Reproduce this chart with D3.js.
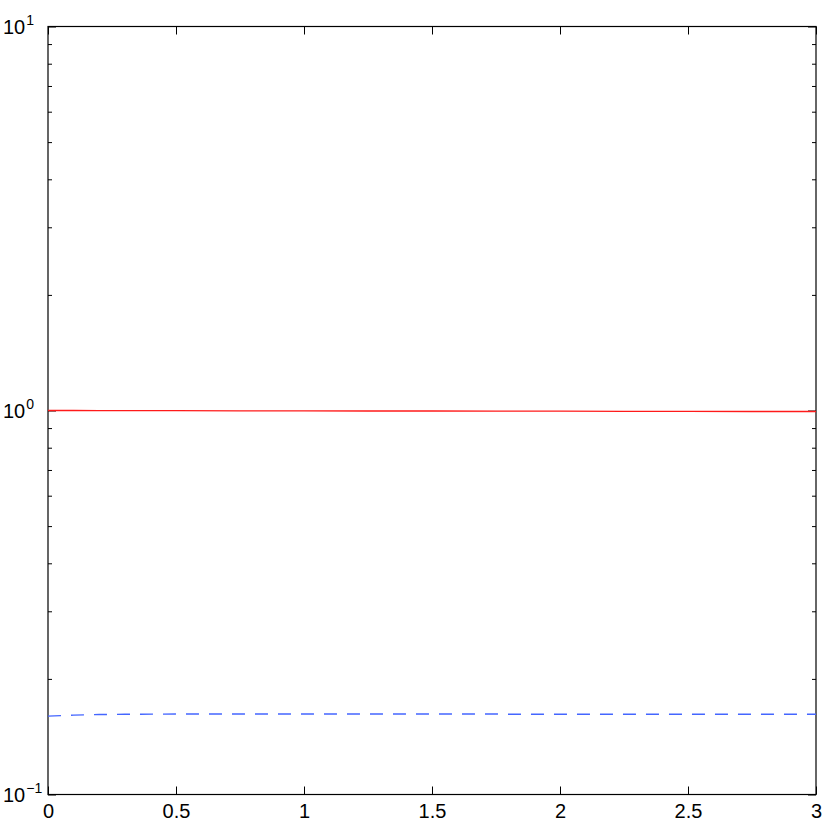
<!DOCTYPE html>
<html>
<head>
<meta charset="utf-8">
<script src="https://cdn.jsdelivr.net/npm/d3@7"></script>
<style>
  body { margin: 0; background: #fff; }
  svg text { font-family: "Liberation Sans", Arial, sans-serif; }
</style>
</head>
<body>
<svg id="chart" width="830" height="822"></svg>
<script>
// data
const xs = [0, 0.05, 0.1, 0.2, 0.3, 0.5, 0.75, 1, 1.25, 1.5, 1.75, 1.82, 2, 2.25, 2.5, 2.75, 3];
const solidRed = [1.0, 1.0, 1.0, 0.999, 0.999, 0.999, 0.998, 0.998, 0.997, 0.997, 0.996, 0.996, 0.996, 0.995, 0.995, 0.994, 0.994];
const dashedBlue = [0.160, 0.1605, 0.161, 0.1615, 0.1618, 0.162, 0.162, 0.162, 0.162, 0.162, 0.162, 0.1618, 0.1618, 0.1618, 0.1618, 0.1618, 0.1618];
const xTicks = [0, 0.5, 1, 1.5, 2, 2.5, 3];
const yMajor = [0.1, 1, 10];
const yExp = ['\u22121', '0', '1'];

const margin = {left: 48, top: 26.5, right: 14, bottom: 27.5};
const svgWidth = 830, svgHeight = 822;
const innerWidth = svgWidth - margin.left - margin.right;
const innerHeight = svgHeight - margin.top - margin.bottom;

const yMinor = [];
[0.1, 1].forEach(d => { for (let k = 2; k <= 9; k++) yMinor.push(d * k); });

const svg = d3.select('#chart');
const g = svg.append('g').attr('transform', `translate(${margin.left}, ${margin.top})`);

const xScale = d3.scaleLinear().domain([0, 3]).range([0, innerWidth]);
const yScale = d3.scaleLog().domain([0.1, 10]).range([innerHeight, 0]);

function styleAxis(sel) {
  sel.select('.domain').remove();
  sel.selectAll('line').attr('stroke', '#000').attr('stroke-width', 1);
  sel.selectAll('text').attr('font-size', 20).attr('fill', '#000');
}

// bottom axis, ticks inward
g.append('g')
  .attr('transform', `translate(0,${innerHeight})`)
  .call(d3.axisBottom(xScale).tickValues(xTicks).tickFormat(d3.format('')).tickSizeInner(-8).tickSizeOuter(0).tickPadding(9))
  .call(styleAxis);

// top axis ticks
g.append('g')
  .call(d3.axisTop(xScale).tickValues(xTicks).tickSizeInner(-8).tickSizeOuter(0).tickFormat(''))
  .call(styleAxis);

// left / right major ticks
g.append('g')
  .call(d3.axisLeft(yScale).tickValues(yMajor).tickSizeInner(-8).tickSizeOuter(0).tickFormat(''))
  .call(styleAxis);
g.append('g')
  .attr('transform', `translate(${innerWidth},0)`)
  .call(d3.axisRight(yScale).tickValues(yMajor).tickSizeInner(-8).tickSizeOuter(0).tickFormat(''))
  .call(styleAxis);

// minor ticks
g.append('g')
  .call(d3.axisLeft(yScale).tickValues(yMinor).tickSizeInner(-4).tickSizeOuter(0).tickFormat(''))
  .call(styleAxis);
g.append('g')
  .attr('transform', `translate(${innerWidth},0)`)
  .call(d3.axisRight(yScale).tickValues(yMinor).tickSizeInner(-4).tickSizeOuter(0).tickFormat(''))
  .call(styleAxis);

// y labels 10^n
yMajor.forEach((v, i) => {
  const t = svg.append('text')
    .attr('x', 3)
    .attr('y', margin.top + yScale(v) + 7)
    .attr('font-size', 20)
    .attr('fill', '#000');
  t.append('tspan').text('10');
  t.append('tspan').attr('dy', -9).attr('dx', 1).attr('font-size', 14).text(yExp[i]);
});

// box
g.append('rect')
  .attr('width', innerWidth).attr('height', innerHeight)
  .attr('fill', 'none').attr('stroke', '#000').attr('stroke-width', 1.2);

const line = d3.line().x((d, i) => xScale(xs[i])).y(d => yScale(d));

g.append('path')
  .datum(solidRed)
  .attr('d', line)
  .attr('fill', 'none')
  .attr('stroke', '#ff1a1a')
  .attr('stroke-width', 1.4);

g.append('path')
  .datum(dashedBlue)
  .attr('d', line)
  .attr('fill', 'none')
  .attr('stroke', '#4466ff')
  .attr('stroke-width', 1.4)
  .attr('stroke-dasharray', '13,10');
</script>
</body>
</html>
